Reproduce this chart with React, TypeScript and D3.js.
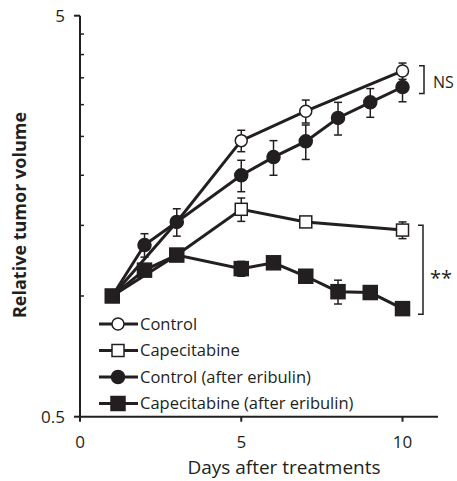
import React from 'react';
import * as d3 from 'd3';

// values (relative tumor volume, mean ± error)
const controlDays = [1, 3, 5, 7, 10];
const controlVals = [1, 1.53, 2.44, 2.89, 3.64];
const controlErr = [0, 0, 0.15, 0.19, 0.17];

const capeDays = [1, 3, 5, 7, 10];
const capeVals = [1, 1.265, 1.645, 1.53, 1.46];
const capeErr = [0, 0, 0.11, 0.03, 0.07];

const ctrlEriDays = [1, 2, 3, 5, 6, 7, 8, 9, 10];
const ctrlEriVals = [1, 1.34, 1.53, 2.0, 2.22, 2.43, 2.78, 3.04, 3.32];
const ctrlEriErr = [0, 0.09, 0.12, 0.18, 0.22, 0.24, 0.26, 0.25, 0.27];

const capeEriDays = [1, 2, 3, 5, 6, 7, 8, 9, 10];
const capeEriVals = [1, 1.16, 1.265, 1.17, 1.21, 1.12, 1.025, 1.02, 0.93];
const capeEriErr = [0, 0.02, 0.02, 0.05, 0.03, 0.02, 0.07, 0.03, 0.02];

const xTicks = [0, 5, 10];
const yMajor = [0.5, 5];
const yMinor = [1, 1.5, 2, 2.5, 3, 3.5, 4, 4.5];

const series = [
  { name: 'Control', days: controlDays, vals: controlVals, err: controlErr, shape: 'circle', filled: false },
  { name: 'Capecitabine', days: capeDays, vals: capeVals, err: capeErr, shape: 'square', filled: false },
  { name: 'Control (after eribulin)', days: ctrlEriDays, vals: ctrlEriVals, err: ctrlEriErr, shape: 'circle', filled: true },
  { name: 'Capecitabine (after eribulin)', days: capeEriDays, vals: capeEriVals, err: capeEriErr, shape: 'square', filled: true },
];

const W = 457;
const H = 481;
const font = "'Open Sans', sans-serif";

function Marker({ cx, cy, shape, filled }: { cx: number; cy: number; shape: string; filled: boolean }) {
  const fill = filled ? '#231f20' : '#fff';
  if (shape === 'circle') {
    return <circle cx={cx} cy={cy} r={filled ? 6.5 : 6} fill={fill} stroke="#231f20" strokeWidth={1.5} />;
  }
  const s = filled ? 14 : 12;
  return <rect x={cx - s / 2} y={cy - s / 2} width={s} height={s} fill={fill} stroke="#231f20" strokeWidth={1.5} />;
}

export default function App() {
  const x = d3.scaleLinear().domain([0, 11.1]).range([80, 438]);
  const y = d3.scaleLog().domain([0.5, 5]).range([416.7, 15.7]);
  const line = d3.line<[number, number]>().x(d => x(d[0])).y(d => y(d[1]));
  const ink = '#231f20';

  return (
    <svg width={W} height={H} style={{ position: 'absolute', left: 0, top: 0, background: '#fff' }} fontFamily={font}>
      {/* axes */}
      <line x1={x(0)} x2={x(0)} y1={y(5)} y2={y(0.5)} stroke={ink} strokeWidth={2} />
      <line x1={x(0) - 1} x2={x(11.1)} y1={y(0.5)} y2={y(0.5)} stroke={ink} strokeWidth={2} />
      {yMajor.map(v => (
        <g key={v}>
          <line x1={x(0) - 6} x2={x(0)} y1={y(v)} y2={y(v)} stroke={ink} strokeWidth={2} />
          <text x={x(0) - 15} y={y(v)} dy="0.35em" textAnchor="end" fontSize={17} fill={ink}>{v}</text>
        </g>
      ))}
      {yMinor.map(v => (
        <line key={v} x1={x(0)} x2={x(0) + 4} y1={y(v)} y2={y(v)} stroke={ink} strokeWidth={1.5} />
      ))}
      {xTicks.map(v => (
        <g key={v}>
          <line x1={x(v)} x2={x(v)} y1={y(0.5)} y2={y(0.5) + 5} stroke={ink} strokeWidth={2} />
          <text x={x(v)} y={448} textAnchor="middle" fontSize={17} fill={ink}>{v}</text>
        </g>
      ))}
      <text x={284} y={474} textAnchor="middle" fontSize={19} fill={ink}>Days after treatments</text>
      <text transform="translate(26,215) rotate(-90)" textAnchor="middle" fontSize={18} fontWeight="bold" fill={ink}>Relative tumor volume</text>

      {/* lines */}
      {series.map(s => (
        <path key={s.name} d={line(s.days.map((d, i) => [d, s.vals[i]]) as [number, number][]) || ''} fill="none" stroke={ink} strokeWidth={3} />
      ))}
      {/* error bars */}
      {series.map(s =>
        s.days.map((d, i) => {
          const e = s.err[i];
          if (!e) return null;
          const cx = x(d);
          const y1 = y(s.vals[i] + e);
          const y2 = y(s.vals[i] - e);
          return (
            <g key={s.name + d} stroke={ink} strokeWidth={1.5}>
              <line x1={cx} x2={cx} y1={y1} y2={y2} />
              <line x1={cx - 4} x2={cx + 4} y1={y1} y2={y1} />
              <line x1={cx - 4} x2={cx + 4} y1={y2} y2={y2} />
            </g>
          );
        })
      )}
      {/* markers */}
      {series.map(s =>
        s.days.map((d, i) => <Marker key={s.name + d} cx={x(d)} cy={y(s.vals[i])} shape={s.shape} filled={s.filled} />)
      )}

      {/* significance brackets */}
      <path d={`M419,${y(3.75)}H424V${y(3.2)}H419`} fill="none" stroke={ink} strokeWidth={1.5} />
      <text x={433} y={82} dy="0.35em" fontSize={16} fill={ink}>NS</text>
      <path d={`M418,${y(1.5)}H423V${y(0.9)}H418`} fill="none" stroke={ink} strokeWidth={1.5} />
      <text x={430} y={278} dy="0.35em" fontSize={20} fill={ink}>**</text>

      {/* legend */}
      {series.map((s, i) => {
        const ly = 324 + i * 26.5;
        return (
          <g key={s.name}>
            <line x1={99} x2={138} y1={ly} y2={ly} stroke={ink} strokeWidth={3} />
            <Marker cx={118} cy={ly} shape={s.shape} filled={s.filled} />
            <text x={140} y={ly} dy="0.35em" fontSize={16.5} fill={ink}>{s.name}</text>
          </g>
        );
      })}
    </svg>
  );
}
